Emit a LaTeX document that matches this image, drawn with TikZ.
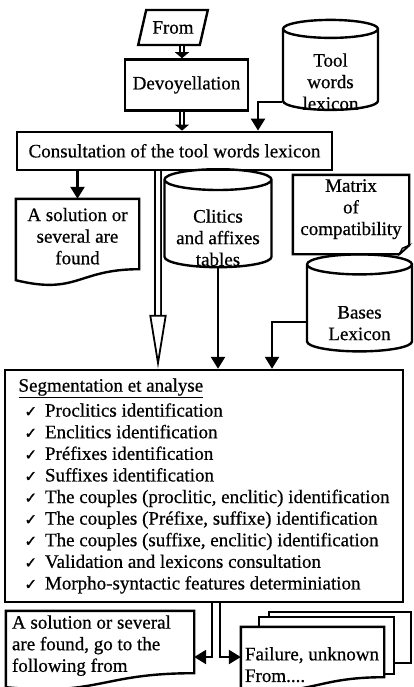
\documentclass[tikz,border=0pt]{standalone}
\usepackage{fontspec}
\setmainfont{Liberation Serif}[FakeBold=0.6]
\newfontfamily\symfont{DejaVu Sans}[FakeBold=1.5]
\usetikzlibrary{positioning,shapes.geometric,arrows.meta,calc,backgrounds}

\newcommand{\chk}{\hspace*{6pt}{\symfont\fontsize{15}{15}\selectfont ✓}\ \,}
\newcommand{\lifted}[3]{\raisebox{#1}[0pt][0pt]{\parbox[c]{#2}{#3}}}
\newcommand{\docline}[3]{%
	\draw [sheet] (#1.north west) -- (#1.north east) -- (#1.south east)
		.. controls (#1.south) and ($(#1.south)+(0,#2)$) .. ($(#1.south west)+(0,#3)$) -- cycle;}

\tikzset{
	box/.style={draw, rectangle, inner sep=0pt},
	dbase/.style={draw, cylinder, shape border rotate=90, aspect=0.2, inner sep=0pt},
	txt/.style={rectangle, inner sep=0pt},
	sheet/.style={draw, fill=white, line width=2.4pt},
	arr/.style={-{Triangle[length=12pt,width=14pt]}},
	dbl/.style={double, double distance=2.5pt, line width=1.5pt, -{Triangle[length=6pt,width=14pt]}},
	hollow/.style={double, double distance=4pt, line width=1.8pt, -{Triangle[open,length=54pt,width=17pt]}}
}

\begin{document}
\begin{tikzpicture}[x=1pt, y=-1pt, line width=2.4pt, font=\fontsize{19}{21.6}\selectfont]
	\useasboundingbox (0,0) rectangle (413,687);
	\node [draw, trapezium, trapezium left angle=64, trapezium right angle=116, trapezium stretches=true, minimum width=70pt, minimum height=35pt, inner sep=0pt] (from) at (173,27.5) {From};
	\node [box, minimum width=123pt, minimum height=51pt, below=12pt of from, xshift=13.5pt] (devo) {Devoyellation};
	\node [box, minimum width=315pt, minimum height=38pt, below=19pt of devo, xshift=-12pt] (conc) {Consultation of the tool words lexicon};
	\node [dbase, minimum width=95pt, minimum height=90pt] (toolw) at (330.5,70) {\lifted{-16pt}{90pt}{\centering Tool\\words\\lexicon}};
	\node [txt, minimum width=121pt, minimum height=68pt] (doc1) at (77.5,234) {\lifted{-6.5pt}{115pt}{\centering A solution or\\several are\\found}};
	\node [dbase, minimum width=107pt, minimum height=98pt] (clit) at (218,224) {\lifted{-18pt}{104pt}{\centering Clitics\\and affixes\\tables}};
	\node [txt, minimum width=114pt, minimum height=77pt] (matr) at (351,214.5) {\lifted{1pt}{110pt}{\centering Matrix\\of\\compatibility}};
	\node [dbase, minimum width=105pt, minimum height=97pt] (bases) at (359.5,308.5) {\lifted{-19pt}{100pt}{\centering Bases\\Lexicon}};
	\node [box, minimum width=398pt, minimum height=232pt, align=left, inner xsep=7pt] (seg) at (204,486) {\underline{Segmentation et analyse}\\[3.4pt]
		\chk Proclitics identification\\
		\chk Enclitics identification\\
		\chk Préfixes identification\\
		\chk Suffixes identification\\
		\chk The couples (proclitic, enclitic) identification\\
		\chk The couples (Préfixe, suffixe) identification\\
		\chk The couples (suffixe, enclitic) identification\\
		\chk Validation and lexicons consultation\\
		\chk Morpho-syntactic features determiniation};
	\node [txt, minimum width=186pt, minimum height=60pt] (doc2) at (100,642) {\lifted{-8pt}{176pt}{A solution or several\\are found, go to the\\following from}};
	\node [txt, minimum width=141pt, minimum height=48pt] (mdoc) at (312.5,652) {\lifted{-17pt}{135pt}{Failure, unknown\\From....}};

	\begin{scope}[on background layer]
		\docline{doc1}{26}{11}
		\draw [sheet] (matr.north west) -- (matr.north east) -- ($(matr.south east)+(0,-9)$) -- ($(matr.south east)+(-10,0)$) -- (matr.south west) -- cycle;
		\draw [sheet, fill=gray!70, line width=1.2pt] ($(matr.south east)+(0,-9)$) -- ($(matr.south east)+(-7,-6)$) -- ($(matr.south east)+(-10,0)$) -- cycle;
		\docline{doc2}{23}{14}
		\draw [sheet] ($(mdoc.north west)+(28,-15)$) rectangle ($(mdoc.south east)+(27,-14)$);
		\draw [sheet] ($(mdoc.north west)+(18,-10)$) rectangle ($(mdoc.south east)+(10,-3)$);
		\docline{mdoc}{20}{11}
	\end{scope}

	\draw [dbl] ([xshift=9pt]from.south) -- ([xshift=-4.5pt]devo.north);
	\draw [dbl] ([xshift=-4.5pt]devo.south) -- ([xshift=7.5pt]conc.north);
	\draw [arr] ([yshift=-32pt]toolw.west) -| ([xshift=83.5pt]conc.north);
	\draw [arr] (conc.south -| doc1.north) -- (doc1.north);
	\draw [hollow] ([xshift=-16.5pt]conc.south) -- ([xshift=-46pt]seg.north);
	\draw [arr] (clit.south) -- (clit.south |- seg.north);
	\draw [arr] ([yshift=-13.5pt]bases.west) -| ([xshift=68pt]seg.north);
	\draw [arr] ([xshift=8pt]seg.south) |- ([yshift=-15pt]doc2.east);
	\draw [arr] ([xshift=16pt]seg.south) |- ([yshift=-5pt]mdoc.west);
\end{tikzpicture}
\end{document}
